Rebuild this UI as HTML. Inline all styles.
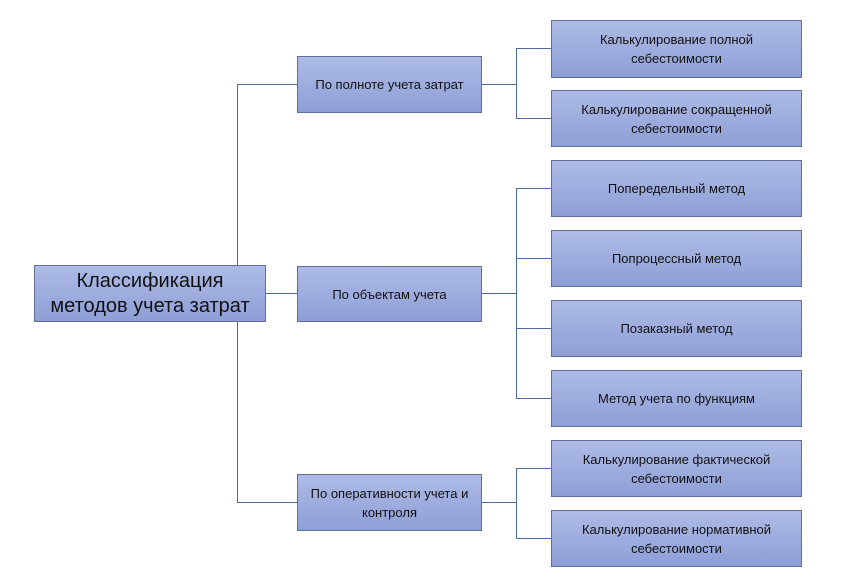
<!DOCTYPE html>
<html><head><meta charset="utf-8"><style>
body{margin:0;width:853px;height:585px;background:#fff;position:relative;overflow:hidden;font-family:"Liberation Sans","DejaVu Sans",sans-serif}
.b{position:absolute;box-sizing:border-box;border:1px solid #5f6f96;background:linear-gradient(#aebbe6,#8e9fd6);display:flex;align-items:center;justify-content:center;text-align:center;color:#111;font-size:13px;line-height:19px}
.l{position:absolute;background:#4f6aa0}
</style></head><body>
<div class="l" style="left:237px;top:84px;width:1px;height:419px"></div>
<div class="l" style="left:237px;top:84px;width:60px;height:1px"></div>
<div class="l" style="left:265px;top:293px;width:32px;height:1px"></div>
<div class="l" style="left:237px;top:502px;width:60px;height:1px"></div>

<div class="l" style="left:481px;top:84px;width:35px;height:1px"></div>
<div class="l" style="left:516px;top:48px;width:1px;height:71px"></div>
<div class="l" style="left:516px;top:48px;width:35px;height:1px"></div>
<div class="l" style="left:516px;top:118px;width:35px;height:1px"></div>

<div class="l" style="left:481px;top:293px;width:35px;height:1px"></div>
<div class="l" style="left:516px;top:188px;width:1px;height:211px"></div>
<div class="l" style="left:516px;top:188px;width:35px;height:1px"></div>
<div class="l" style="left:516px;top:258px;width:35px;height:1px"></div>
<div class="l" style="left:516px;top:328px;width:35px;height:1px"></div>
<div class="l" style="left:516px;top:398px;width:35px;height:1px"></div>

<div class="l" style="left:481px;top:502px;width:35px;height:1px"></div>
<div class="l" style="left:516px;top:468px;width:1px;height:71px"></div>
<div class="l" style="left:516px;top:468px;width:35px;height:1px"></div>
<div class="l" style="left:516px;top:538px;width:35px;height:1px"></div>

<div class="b" style="left:34px;top:265px;width:232px;height:57px;font-size:20px;line-height:25px">Классификация<br>методов учета затрат</div>
<div class="b" style="left:297px;top:56px;width:185px;height:57px">По полноте учета затрат</div>
<div class="b" style="left:297px;top:266px;width:185px;height:56px">По объектам учета</div>
<div class="b" style="left:297px;top:474px;width:185px;height:57px">По оперативности учета и<br>контроля</div>

<div class="b" style="left:551px;top:20px;width:251px;height:58px">Калькулирование полной<br>себестоимости</div>
<div class="b" style="left:551px;top:90px;width:251px;height:57px">Калькулирование сокращенной<br>себестоимости</div>
<div class="b" style="left:551px;top:160px;width:251px;height:57px">Попередельный метод</div>
<div class="b" style="left:551px;top:230px;width:251px;height:57px">Попроцессный метод</div>
<div class="b" style="left:551px;top:300px;width:251px;height:57px">Позаказный метод</div>
<div class="b" style="left:551px;top:370px;width:251px;height:57px">Метод учета по функциям</div>
<div class="b" style="left:551px;top:440px;width:251px;height:57px">Калькулирование фактической<br>себестоимости</div>
<div class="b" style="left:551px;top:510px;width:251px;height:57px">Калькулирование нормативной<br>себестоимости</div>
</body></html>
